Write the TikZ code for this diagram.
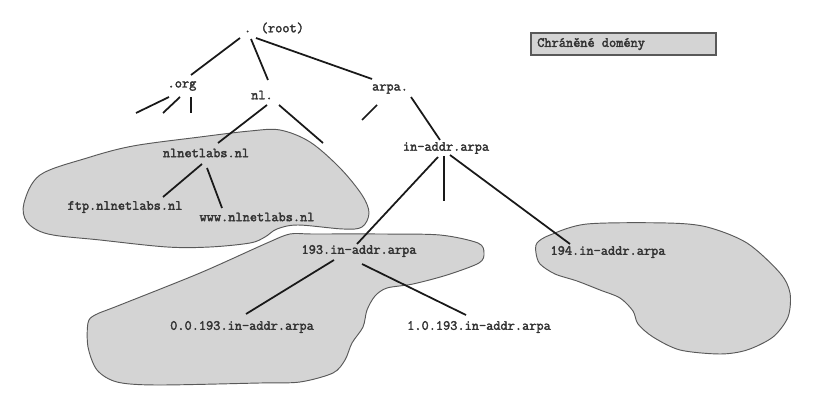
\documentclass[tikz,border=0pt]{standalone}
\usepackage{fontspec}
\newfontfamily\typewr[FakeBold=2.4]{Latin Modern Mono}
\begin{document}
\begin{tikzpicture}[x=0.03cm,y=-0.03cm,
  lbl/.style={font=\typewr\fontsize{11.9}{14}\selectfont, text=black!80, inner sep=0pt},
  conn/.style={line width=1.5pt, black!90},
  zone/.style={fill=black!17, draw=black!65, line width=0.8pt}]
\useasboundingbox (0,0) rectangle (817,403);
% zones
\draw[zone] plot[smooth cycle, tension=0.55] coordinates {
 (24,203) (40,175) (87,158) (133,146) (200,137) (250,131) (280,130) (310,142)
 (340,168) (362,195) (369,213) (362,227) (343,229) (298,225) (277,229) (265,237)
 (250,243) (210,247) (167,247) (100,240) (48,234) (27,222)};
\draw[zone] plot[smooth cycle, tension=0.5] coordinates {
 (313,234) (380,234) (440,235) (478,243) (484,253) (479,263) (447,275) (413,284)
 (387,288) (375,296) (367,310) (363,327) (352,343) (345,360) (333,373) (300,382)
 (260,383) (157,385) (117,382) (97,370) (88,347) (88,323) (95,315) (120,305)
 (200,273) (267,243) (290,234)};
\draw[zone] plot[smooth cycle, tension=0.5] coordinates {
 (537,243) (550,235) (587,224) (667,223) (707,227) (747,243) (780,273) (790,293)
 (788,317) (773,337) (747,350) (720,354) (680,350) (653,337) (638,324) (633,311)
 (620,298) (600,290) (577,281) (555,274) (540,264) (536,253)};
% legend
\node[draw=black!65, line width=0.9pt, fill=black!17, minimum width=185*0.03cm, minimum height=22*0.03cm, inner sep=0pt] (legend) at (623.5,44) {};
\node[lbl, anchor=west] (legendtext) at (537,44) {Chráněné domény};
% labels
\node[lbl] (root) at (274,28) {. (root)};
\node[lbl] (org) at (182,86) {.org};
\node[lbl] (nl) at (262,95) {nl.};
\node[lbl] (arpa) at (390,89) {arpa.};
\node[lbl] (inaddr) at (446,148) {in-addr.arpa};
\node[lbl] (nlnet) at (206,153) {nlnetlabs.nl};
\node[lbl] (ftp) at (125,207) {ftp.nlnetlabs.nl};
\node[lbl] (www) at (257,217) {www.nlnetlabs.nl};
\node[lbl] (r193) at (359,251) {193.in-addr.arpa};
\node[lbl] (r000) at (242,327) {0.0.193.in-addr.arpa};
\node[lbl] (r100) at (479,327) {1.0.193.in-addr.arpa};
\node[lbl] (r194) at (608,252) {194.in-addr.arpa};
% connector end points
\coordinate (a1) at (240,38); \coordinate (a2) at (191,75);
\coordinate (b1) at (251,39); \coordinate (b2) at (268,80);
\coordinate (c1) at (256,38); \coordinate (c2) at (372,79);
\coordinate (d1) at (169,97); \coordinate (d2) at (136,113);
\coordinate (e1) at (180,97); \coordinate (e2) at (163,113);
\coordinate (f1) at (191,97); \coordinate (f2) at (191,113);
\coordinate (g1) at (267,105); \coordinate (g2) at (218,143);
\coordinate (h1) at (279,105); \coordinate (h2) at (323,143);
\coordinate (i1) at (377,105); \coordinate (i2) at (362,120);
\coordinate (j1) at (411,97); \coordinate (j2) at (440,140);
\coordinate (k1) at (202,164); \coordinate (k2) at (163,197);
\coordinate (l1) at (207,168); \coordinate (l2) at (222,208);
\coordinate (m1) at (438,157); \coordinate (m2) at (357,244);
\coordinate (n1) at (444,156); \coordinate (n2) at (444,201);
\coordinate (o1) at (450,155); \coordinate (o2) at (570,244);
\coordinate (p1) at (334,260); \coordinate (p2) at (246,314);
\coordinate (q1) at (362,264); \coordinate (q2) at (466,315);
\foreach \s/\t in {a1/a2,b1/b2,c1/c2,d1/d2,e1/e2,f1/f2,g1/g2,h1/h2,i1/i2,j1/j2,k1/k2,l1/l2,m1/m2,n1/n2,o1/o2,p1/p2,q1/q2}
  \draw[conn] (\s) -- (\t);
\end{tikzpicture}
\end{document}
